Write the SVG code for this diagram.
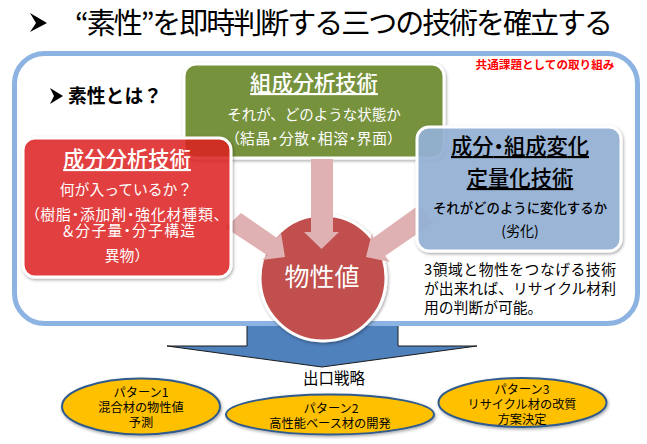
<svg xmlns="http://www.w3.org/2000/svg" width="647" height="444" viewBox="0 0 647 444">
<style>
text{font-family:"Noto Sans CJK JP","Noto Sans",sans-serif;text-anchor:middle}
.w{fill:#fff}
.k{fill:#000}
.card{stroke:#fff;stroke-width:3;filter:url(#sh)}
.ar{fill:#dfb1b3}
.ov{fill:#ffc000;stroke:#2f5a8e;stroke-width:2;filter:url(#sh)}
.o{font-size:12.200px}
.h{font-size:21.300px;font-weight:500;text-decoration:underline}
.s{font-size:14.800px}
.p{font-size:14.800px;text-anchor:start}
.n{font-feature-settings:"palt"}
</style>
<defs><filter id="sh" x="-10%" y="-10%" width="120%" height="125%"><feDropShadow dx="1" dy="1.500" stdDeviation="1.500" flood-color="#000" flood-opacity=".35"/></filter></defs>
<rect width="647" height="444" fill="#fff"/>
<path id="title-bullet" d="M30 13l17 10-17 9 6-9z" fill="#000"/>
<text x="344" y="34" font-size="29" class="k" textLength="538">“素性”を即時判断する三つの技術を確立する</text>
<g id="exit-arrow"><path d="M247 320V346H167L322 367 477 346H398V320z" fill="#4f81bd" stroke="#1a1a1a" stroke-width="1"/></g>
<g id="frame"><rect x="14.500" y="53.500" width="623" height="270" rx="30" fill="#fff" stroke="#8db3e2" stroke-width="5"/></g>
<text x="545" y="69" font-size="11.600" font-weight="700" fill="#ff0000">共通課題としての取り組み</text>
<g id="what"><path d="M50 88l13 8-13 8 4-8z" fill="#000"/><text x="115" y="103" font-size="18.800" font-weight="700" class="k">素性とは？</text></g>
<g id="green"><rect class="card" x="184" y="64" width="260" height="94" rx="12" fill="#76923c"/>
<text class="w h" x="314" y="91">組成分析技術</text>
<text class="w" x="314" y="120" font-size="14.500">それが、どのような状態か</text>
<text class="w s n" x="313.500" y="144" textLength="163">（結晶・分散・相溶・界面）</text></g>
<g id="value"><circle class="card" cx="323" cy="278" r="63" fill="#c0504d"/><text class="w" x="322" y="286" font-size="25">物性値</text></g>
<g id="connectors"><path class="ar" d="M311 159H333V232H339L321.500 249 304 232H311z"/><path class="ar" d="M225 228L241 213 277 238 281 233 285 257 262 260 267 255 232 232z"/><path class="ar" d="M419 205L373 238 372 233 366 257 390 262 385 256 433 223z"/></g>
<g id="red"><rect class="card" x="23" y="138" width="208" height="139" rx="12" fill="#e41e22" fill-opacity=".8"/>
<text class="w h" x="127" y="167">成分分析技術</text>
<text class="w s" x="126" y="195">何が入っているか？</text>
<text class="w s n" x="126.500" y="220" textLength="189">（樹脂・添加剤・強化材種類、</text>
<text class="w s n" x="128.500" y="236" textLength="133">＆分子量・分子構造</text>
<text class="w s" x="127" y="261">異物）</text></g>
<g id="blue"><rect class="card" x="417" y="127" width="204" height="124" rx="12" fill="#95b3d7" fill-opacity=".9"/>
<text class="k h n" x="520" y="154" textLength="138">成分・組成変化</text>
<text class="k h" x="520" y="186">定量化技術</text>
<text class="k" x="520" y="213" font-size="13.400" font-weight="500">それがどのように変化するか</text>
<text class="k" x="520" y="236" font-size="14">(劣化)</text></g>
<g class="k"><text class="p" x="424" y="275" textLength="192">3領域と物性をつなげる技術</text><text class="p" x="424" y="294" textLength="192">が出来れば、リサイクル材利</text><text class="p" x="424" y="313">用の判断が可能。</text></g>
<text x="334" y="384" font-size="15.500" class="k">出口戦略</text>
<g id="p1"><ellipse class="ov" cx="141" cy="406.500" rx="79" ry="28"/><text class="o k" x="141" y="397">パターン1</text><text class="o k" x="141" y="412">混合材の物性値</text><text class="o k" x="141" y="427">予測</text></g>
<g id="p2"><ellipse class="ov" cx="330" cy="414.500" rx="104" ry="20"/><text class="o k" x="331" y="413">パターン2</text><text class="o k" x="330" y="428">高性能ベース材の開発</text></g>
<g id="p3"><ellipse class="ov" cx="522.500" cy="402.500" rx="84" ry="24.500"/><text class="o k" x="522" y="394">パターン3</text><text class="o k" x="522" y="409" font-size="11.600">リサイクル材の改質</text><text class="o k" x="522" y="424">方案決定</text></g>
</svg>
